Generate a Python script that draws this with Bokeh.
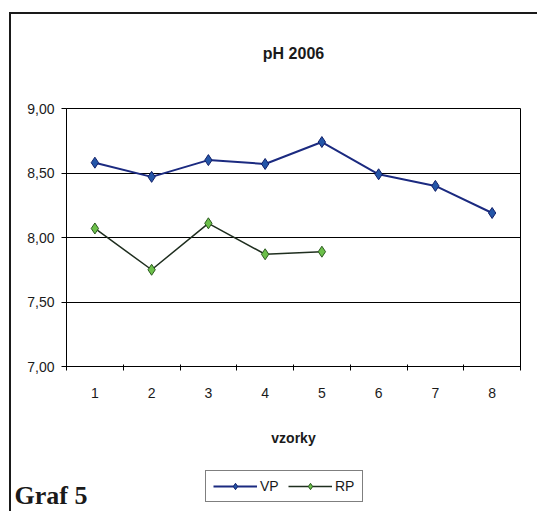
from bokeh.plotting import figure
from bokeh.layouts import column
from bokeh.models import FixedTicker, Legend, LegendItem, Range1d, LinearAxis, Label
from bokeh.embed import file_html
from bokeh.resources import INLINE

# ---- data ----
samples = [1, 2, 3, 4, 5, 6, 7, 8]
vp = [8.58, 8.47, 8.60, 8.57, 8.74, 8.49, 8.40, 8.19]
rp_samples = [1, 2, 3, 4, 5]
rp = [8.07, 7.75, 8.11, 7.87, 7.89]
y_ticks = [7.0, 7.5, 8.0, 8.5, 9.0]
y_tick_labels = ["7,00", "7,50", "8,00", "8,50", "9,00"]
x_tick_labels = ["1", "2", "3", "4", "5", "6", "7", "8"]
category_edges = [0.5, 1.5, 2.5, 3.5, 4.5, 5.5, 6.5, 7.5, 8.5]
title_text = "pH 2006"
x_label = "vzorky"
caption = "Graf 5"
series_names = ["VP", "RP"]

FONT = "Liberation Sans"
INK = "#1a1a1a"
VP_LINE = dict(line_color="#1b2a80", line_width=2)
VP_MARK = dict(marker="diamond", size=11, fill_color="#2456a8", line_color="#12206a", line_width=1)
RP_LINE = dict(line_color="#1f2e1f", line_width=1.5)
RP_MARK = dict(marker="diamond", size=11, fill_color="#6cc04a", line_color="#2c5a20", line_width=1)

p = figure(frame_width=452, frame_height=256,
           min_border_left=55, min_border_right=19,
           min_border_top=94, min_border_bottom=90,
           x_range=Range1d(0.5, 8.5), y_range=Range1d(7.0, 9.0),
           output_backend="svg", toolbar_location=None)
p.styles = {"border-top": "2px solid #1a1a1a", "border-left": "2px solid #1a1a1a",
            "margin-left": "9px", "margin-top": "12px"}

p.background_fill_color = "white"
p.border_fill_color = "white"
p.outline_line_color = "black"
p.outline_line_width = 1

# grid
p.xgrid.visible = False
p.ygrid.ticker = FixedTicker(ticks=y_ticks)
p.ygrid.grid_line_color = "black"
p.ygrid.grid_line_width = 1

# y axis
ya = p.yaxis[0]
ya.ticker = FixedTicker(ticks=y_ticks)
ya.major_label_overrides = {t: l for t, l in zip(y_ticks, y_tick_labels)}
ya.major_tick_in = 0
ya.major_tick_out = 5
ya.minor_tick_line_color = None
ya.axis_line_color = "black"
ya.major_tick_line_color = "black"
ya.major_label_text_font = FONT
ya.major_label_text_font_size = "14px"
ya.major_label_text_color = INK
ya.major_label_standoff = 7

# x axis
xa = p.xaxis[0]
xa.ticker = FixedTicker(ticks=samples, minor_ticks=category_edges)
xa.major_label_overrides = {s: l for s, l in zip(samples, x_tick_labels)}
xa.major_tick_line_color = None
xa.major_tick_in = 0
xa.major_tick_out = 0
xa.minor_tick_line_color = "black"
xa.minor_tick_in = 2
xa.minor_tick_out = 4
xa.axis_line_color = "black"
xa.major_label_text_font = FONT
xa.major_label_text_font_size = "14px"
xa.major_label_text_color = INK
xa.major_label_standoff = 17
xa.axis_label = x_label
xa.axis_label_text_font = FONT
xa.axis_label_text_font_size = "14px"
xa.axis_label_text_font_style = "bold"
xa.axis_label_text_color = INK
xa.axis_label_standoff = 29

# chart title carried by an empty axis above the frame
ta = LinearAxis(ticker=FixedTicker(ticks=[]), axis_label=title_text,
                axis_line_color=None, major_tick_line_color=None, minor_tick_line_color=None,
                major_tick_in=0, major_tick_out=0, minor_tick_in=0, minor_tick_out=0,
                axis_label_standoff=47, axis_label_text_font=FONT,
                axis_label_text_font_size="16px", axis_label_text_font_style="bold",
                axis_label_text_color=INK)
p.add_layout(ta, "above")

# series
p.line(samples, vp, **VP_LINE)
p.scatter(samples, vp, **VP_MARK)
p.line(rp_samples, rp, **RP_LINE)
p.scatter(rp_samples, rp, **RP_MARK)

# ---- bottom strip: legend + caption ----
q = figure(width=526, height=57, min_border=0,
           x_range=Range1d(100, 101), y_range=Range1d(100, 101),
           x_axis_location=None, y_axis_location=None,
           output_backend="svg", toolbar_location=None)
q.styles = {"border-left": "2px solid #1a1a1a", "margin-left": "9px"}
q.grid.visible = False
q.outline_line_color = None
q.background_fill_color = "white"
q.border_fill_color = "white"

# keep the strip's frame independent of the chart's frame when possible
unaligned = "frame_align" in q.properties()
if unaligned:
    p.frame_align = False
    q.frame_align = False
    legend_x, caption_x = 194, 3
else:
    legend_x, caption_x = 138, 3

# same series, kept outside the strip's view, only to feed the legend swatches
ql1 = q.line(samples, vp, **VP_LINE)
qs1 = q.scatter(samples, vp, **VP_MARK)
ql2 = q.line(rp_samples, rp, **RP_LINE)
qs2 = q.scatter(rp_samples, rp, **RP_MARK)

legend = Legend(items=[LegendItem(label=series_names[0], renderers=[ql1, qs1]),
                       LegendItem(label=series_names[1], renderers=[ql2, qs2])],
                location=(legend_x, 9), orientation="horizontal",
                border_line_color="black", border_line_width=1,
                background_fill_color="white", background_fill_alpha=1,
                label_text_font=FONT, label_text_font_size="14px",
                label_text_color=INK,
                glyph_width=44, glyph_height=16, spacing=8, padding=7,
                label_standoff=3, margin=0)
q.add_layout(legend)

cap = Label(x=caption_x, y=16, x_units="screen", y_units="screen", text=caption,
            text_align="left", text_baseline="alphabetic",
            text_font="Liberation Serif", text_font_size="26px",
            text_font_style="bold", text_color=INK)
q.add_layout(cap)

layout = column(p, q, spacing=0)
open("out.html", "w").write(file_html(layout, INLINE))
